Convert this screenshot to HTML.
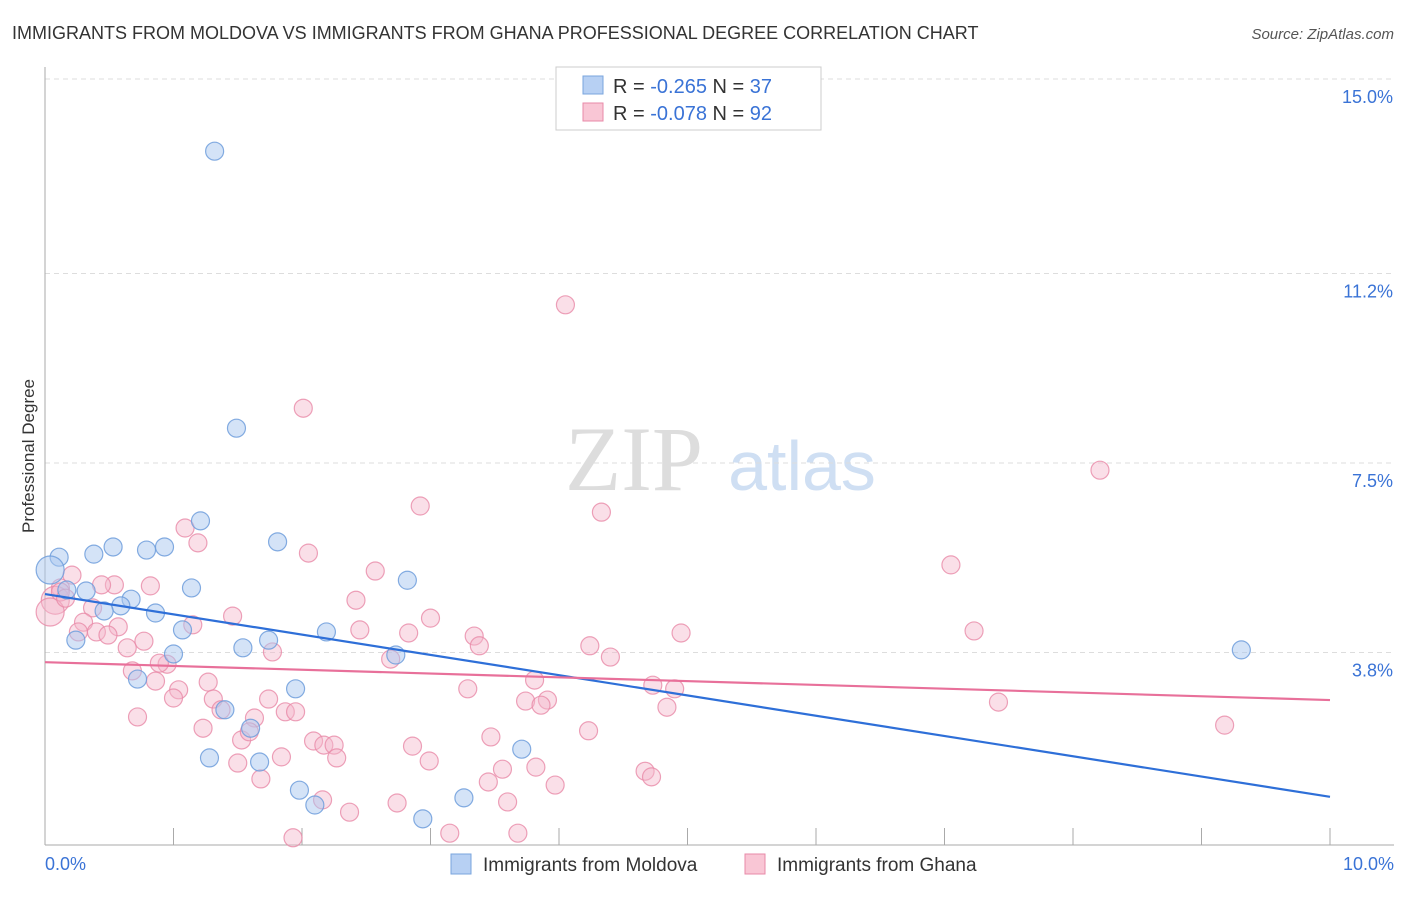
<!DOCTYPE html>
<html><head><meta charset="utf-8"><style>
body{margin:0;background:#fff;width:1406px;height:892px;overflow:hidden;font-family:"Liberation Sans",sans-serif;}
</style></head><body>
<svg id="chart" width="1406" height="892" xmlns="http://www.w3.org/2000/svg" font-family="Liberation Sans, sans-serif">
<text x="12" y="39" font-size="18" fill="#333">IMMIGRANTS FROM MOLDOVA VS IMMIGRANTS FROM GHANA PROFESSIONAL DEGREE CORRELATION CHART</text>
<text x="1394" y="39" font-size="15" fill="#555" text-anchor="end" font-style="italic">Source: ZipAtlas.com</text>
<text transform="translate(34,456) rotate(-90)" font-size="17" fill="#333" text-anchor="middle">Professional Degree</text>
<g><text x="634" y="490" font-size="92" fill="#ddd" font-family="Liberation Serif, serif" text-anchor="middle">ZIP</text><text x="802" y="490" font-size="70" fill="#cfdff3" text-anchor="middle">atlas</text></g>
<g id="grid"></g><g id="axes"></g><g id="pts"></g><g id="lines"></g>
<g>
<rect x="556" y="67" width="265" height="63" fill="#fff" stroke="#ccc"/>
<rect x="583" y="76" width="20" height="18" fill="#b7d0f3" stroke="#7aa5de"/>
<rect x="583" y="103" width="20" height="18" fill="#f9c6d5" stroke="#e88aa8"/>
<text x="613" y="93" font-size="20" fill="#333">R = <tspan fill="#3a73d6">-0.265</tspan>   N = <tspan fill="#3a73d6">37</tspan></text>
<text x="613" y="120" font-size="20" fill="#333">R = <tspan fill="#3a73d6">-0.078</tspan>   N = <tspan fill="#3a73d6">92</tspan></text>
</g>
<g>
<rect x="451" y="854" width="20" height="20" fill="#b7d0f3" stroke="#7aa5de"/>
<text x="483" y="871" font-size="19" fill="#333">Immigrants from Moldova</text>
<rect x="745" y="854" width="20" height="20" fill="#f9c6d5" stroke="#e88aa8"/>
<text x="777" y="871" font-size="19" fill="#333">Immigrants from Ghana</text>
</g>
</svg>
<script>
const yTicks=[15.0,11.2,7.5,3.8];
const yTickLabels=["15.0%","11.2%","7.5%","3.8%"];
const xTickLabels=["0.0%","10.0%"];
const moldovaX=[1.32,1.49,1.21,0.11,0.38,0.53,0.79,0.93,1.81,2.82,1.14,0.32,0.17,0.67,0.59,0.46,0.86,1.07,2.19,0.24,1.74,1.54,1.00,2.73,0.72,1.95,1.40,1.60,1.28,1.67,3.71,1.98,2.10,3.26,2.94,9.31,0.04];
const moldovaY=[13.59,8.18,6.37,5.66,5.72,5.86,5.80,5.86,5.96,5.21,5.06,5.00,5.02,4.84,4.71,4.61,4.57,4.24,4.20,4.04,4.04,3.89,3.77,3.75,3.28,3.09,2.68,2.32,1.74,1.66,1.91,1.11,0.82,0.96,0.55,3.85,5.41];
const ghanaX=[4.05,2.01,8.21,2.92,4.33,1.09,1.19,2.05,7.05,2.57,0.21,0.82,0.54,0.44,0.12,2.42,0.37,1.46,3.00,1.15,0.30,0.57,7.23,4.95,2.83,3.34,2.45,0.40,0.49,0.26,3.38,4.24,0.64,0.77,1.77,4.40,2.69,0.95,0.89,0.68,3.81,0.86,1.27,1.04,3.29,4.73,4.90,1.00,1.74,1.31,3.74,3.91,3.86,7.42,4.84,0.72,1.87,1.95,1.63,1.37,1.23,1.53,1.59,9.18,4.23,3.47,2.09,2.17,2.25,2.86,2.27,1.84,1.50,2.99,3.56,3.82,4.67,4.72,1.68,3.45,3.97,2.16,2.74,3.60,2.37,1.93,3.15,3.68,0.08,0.04,0.12,0.16];
const ghanaY=[10.59,8.57,7.36,6.66,6.54,6.23,5.94,5.74,5.51,5.39,5.31,5.10,5.12,5.12,5.06,4.82,4.67,4.51,4.47,4.34,4.39,4.30,4.22,4.18,4.18,4.12,4.24,4.20,4.14,4.20,3.93,3.93,3.89,4.02,3.81,3.71,3.67,3.57,3.59,3.44,3.26,3.24,3.22,3.07,3.09,3.16,3.09,2.91,2.89,2.89,2.85,2.87,2.77,2.83,2.73,2.54,2.64,2.64,2.52,2.68,2.32,2.09,2.25,2.38,2.27,2.15,2.07,1.99,1.99,1.97,1.74,1.76,1.64,1.68,1.52,1.56,1.48,1.37,1.33,1.27,1.21,0.92,0.86,0.88,0.68,0.18,0.27,0.27,4.82,4.59,4.98,4.86];
const moldovaTrend=[4.94,0.98];
const ghanaTrend=[3.61,2.87];
const NS="http://www.w3.org/2000/svg";
const xs=v=>45+v*128.5;
const ys=v=>79+(15-v)*51.2;
function mk(tag,attrs,parent){const e=document.createElementNS(NS,tag);for(const k in attrs)e.setAttribute(k,attrs[k]);document.getElementById(parent).appendChild(e);return e;}
yTicks.forEach((t,i)=>{
 const l=mk('line',{x1:45,x2:1394,y1:ys(t),y2:ys(t),stroke:'#ddd','stroke-dasharray':'5,4'},'grid');
 
 
 const tx=mk('text',{x:1393,y:ys(t)+24,'font-size':18,fill:'#3a73d6','text-anchor':'end'},'grid');
 tx.textContent=yTickLabels[i];
 
 
});
const ax=mk('line',{x1:45,x2:45,y1:67,y2:845,stroke:'#aaa'},'axes');


const bx=mk('line',{x1:45,x2:1394,y1:845,y2:845,stroke:'#aaa'},'axes');


for(let i=1;i<=10;i++){const t=mk('line',{x1:xs(i),x2:xs(i),y1:828,y2:845,stroke:'#aaa'},'axes');
 
 }
[[0,'start',45],[10,'end',1394]].forEach((d,i)=>{const t=mk('text',{x:d[2],y:870,'font-size':18,fill:'#3a73d6','text-anchor':d[1]},'axes');t.textContent=xTickLabels[i];
 
 });
ghanaX.forEach((x,i)=>{const big=i>=88&&i<=89;const c=mk('circle',{cx:xs(x),cy:ys(ghanaY[i]),r:big?14:9,fill:'#f5b8cb','fill-opacity':0.45,stroke:'#e88aa8','stroke-opacity':0.8,'stroke-width':1.2},'pts');
 
 });
moldovaX.forEach((x,i)=>{const big=i===36;const c=mk('circle',{cx:xs(x),cy:ys(moldovaY[i]),r:big?14:9,fill:'#a9c8f0','fill-opacity':0.5,stroke:'#6f9edc','stroke-opacity':0.85,'stroke-width':1.2},'pts');
 
 });
const l1=mk('line',{x1:xs(0),y1:ys(moldovaTrend[0]),x2:xs(10),y2:ys(moldovaTrend[1]),stroke:'#2e6fd8','stroke-width':2.2},'lines');


const l2=mk('line',{x1:xs(0),y1:ys(ghanaTrend[0]),x2:xs(10),y2:ys(ghanaTrend[1]),stroke:'#e8709a','stroke-width':2.2},'lines');


</script>
</body></html>
